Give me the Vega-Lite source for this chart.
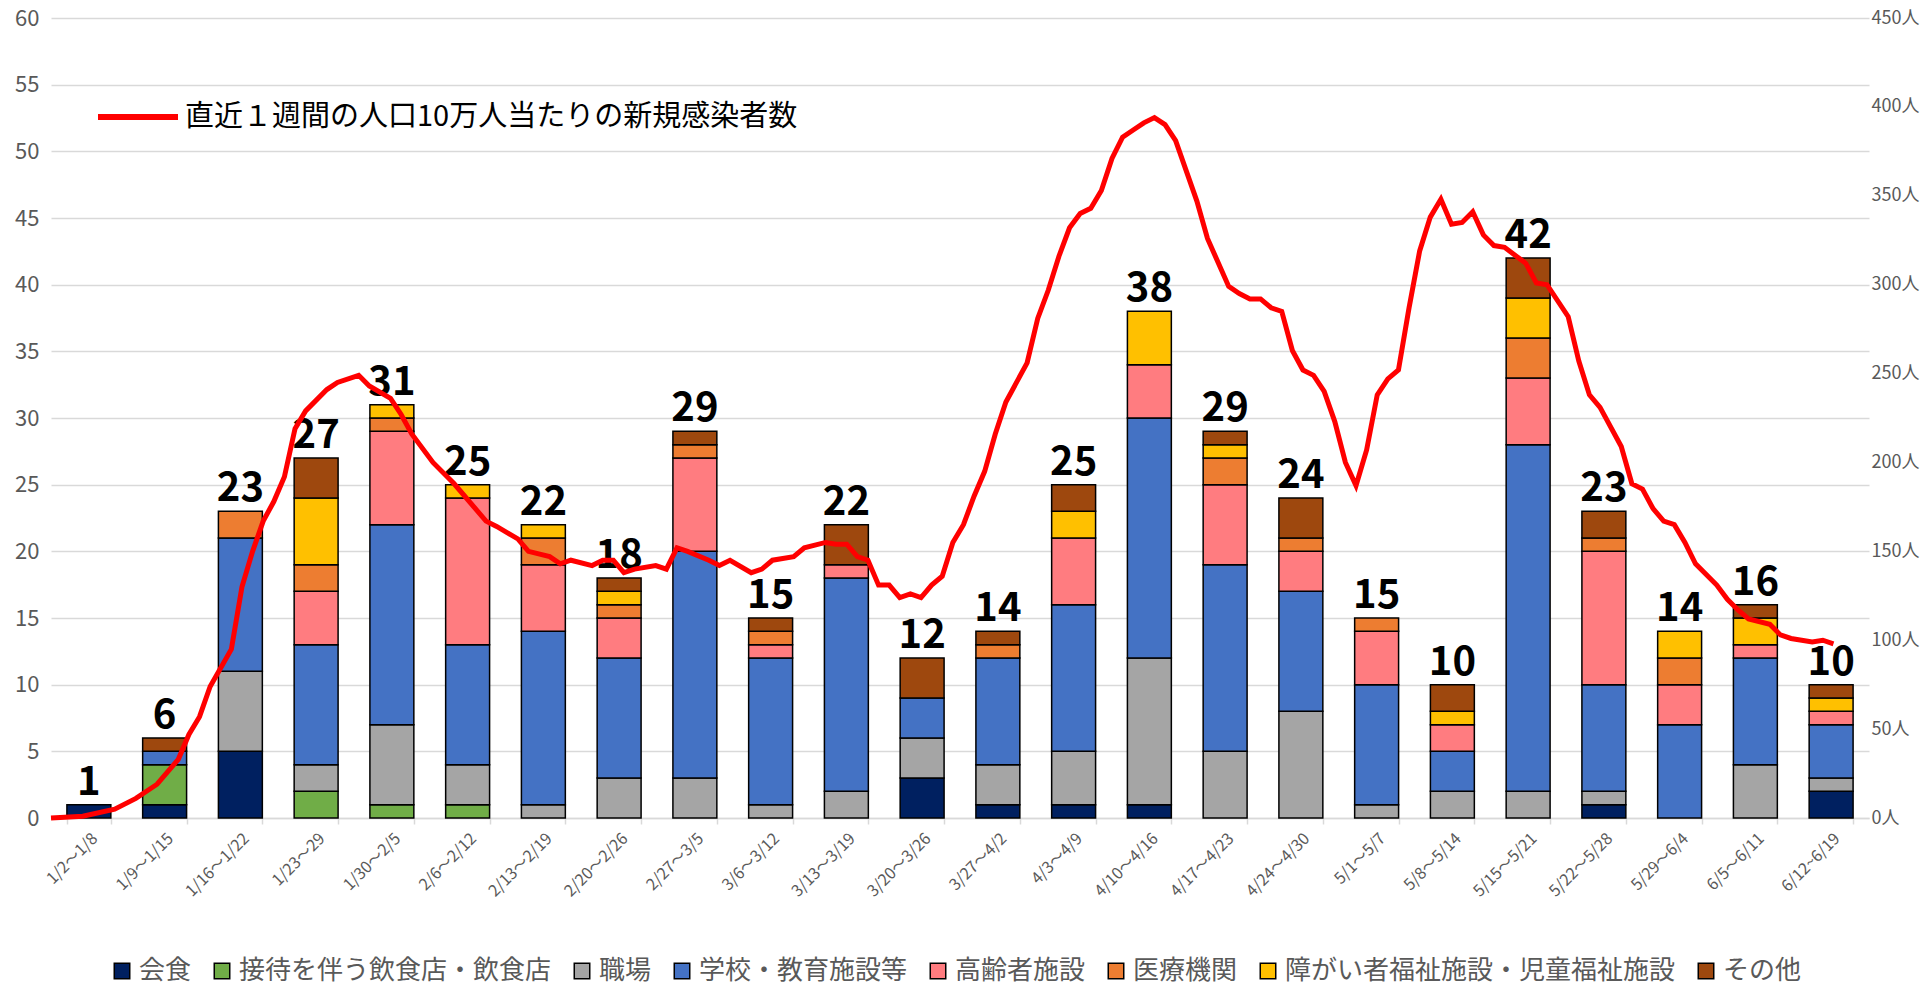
{
  "$schema": "https://vega.github.io/schema/vega-lite/v6.json",
  "autosize": {"type": "none"},
  "width": 1818,
  "height": 800,
  "padding": {"left": 51, "top": 18, "right": 51, "bottom": 175},
  "background": "white",
  "config": {
    "font": "Noto Sans CJK JP",
    "view": {"stroke": null}
  },
  "datasets": {
    "cases": [
      {"w": "1/2～1/8", "c": "会食", "n": 1},
      {"w": "1/9～1/15", "c": "会食", "n": 1},
      {"w": "1/9～1/15", "c": "接待を伴う飲食店・飲食店", "n": 3},
      {"w": "1/9～1/15", "c": "学校・教育施設等", "n": 1},
      {"w": "1/9～1/15", "c": "その他", "n": 1},
      {"w": "1/16～1/22", "c": "会食", "n": 5},
      {"w": "1/16～1/22", "c": "職場", "n": 6},
      {"w": "1/16～1/22", "c": "学校・教育施設等", "n": 10},
      {"w": "1/16～1/22", "c": "医療機関", "n": 2},
      {"w": "1/23～29", "c": "接待を伴う飲食店・飲食店", "n": 2},
      {"w": "1/23～29", "c": "職場", "n": 2},
      {"w": "1/23～29", "c": "学校・教育施設等", "n": 9},
      {"w": "1/23～29", "c": "高齢者施設", "n": 4},
      {"w": "1/23～29", "c": "医療機関", "n": 2},
      {"w": "1/23～29", "c": "障がい者福祉施設・児童福祉施設", "n": 5},
      {"w": "1/23～29", "c": "その他", "n": 3},
      {"w": "1/30～2/5", "c": "接待を伴う飲食店・飲食店", "n": 1},
      {"w": "1/30～2/5", "c": "職場", "n": 6},
      {"w": "1/30～2/5", "c": "学校・教育施設等", "n": 15},
      {"w": "1/30～2/5", "c": "高齢者施設", "n": 7},
      {"w": "1/30～2/5", "c": "医療機関", "n": 1},
      {"w": "1/30～2/5", "c": "障がい者福祉施設・児童福祉施設", "n": 1},
      {"w": "2/6～2/12", "c": "接待を伴う飲食店・飲食店", "n": 1},
      {"w": "2/6～2/12", "c": "職場", "n": 3},
      {"w": "2/6～2/12", "c": "学校・教育施設等", "n": 9},
      {"w": "2/6～2/12", "c": "高齢者施設", "n": 11},
      {"w": "2/6～2/12", "c": "障がい者福祉施設・児童福祉施設", "n": 1},
      {"w": "2/13～2/19", "c": "職場", "n": 1},
      {"w": "2/13～2/19", "c": "学校・教育施設等", "n": 13},
      {"w": "2/13～2/19", "c": "高齢者施設", "n": 5},
      {"w": "2/13～2/19", "c": "医療機関", "n": 2},
      {"w": "2/13～2/19", "c": "障がい者福祉施設・児童福祉施設", "n": 1},
      {"w": "2/20～2/26", "c": "職場", "n": 3},
      {"w": "2/20～2/26", "c": "学校・教育施設等", "n": 9},
      {"w": "2/20～2/26", "c": "高齢者施設", "n": 3},
      {"w": "2/20～2/26", "c": "医療機関", "n": 1},
      {"w": "2/20～2/26", "c": "障がい者福祉施設・児童福祉施設", "n": 1},
      {"w": "2/20～2/26", "c": "その他", "n": 1},
      {"w": "2/27～3/5", "c": "職場", "n": 3},
      {"w": "2/27～3/5", "c": "学校・教育施設等", "n": 17},
      {"w": "2/27～3/5", "c": "高齢者施設", "n": 7},
      {"w": "2/27～3/5", "c": "医療機関", "n": 1},
      {"w": "2/27～3/5", "c": "その他", "n": 1},
      {"w": "3/6～3/12", "c": "職場", "n": 1},
      {"w": "3/6～3/12", "c": "学校・教育施設等", "n": 11},
      {"w": "3/6～3/12", "c": "高齢者施設", "n": 1},
      {"w": "3/6～3/12", "c": "医療機関", "n": 1},
      {"w": "3/6～3/12", "c": "その他", "n": 1},
      {"w": "3/13～3/19", "c": "職場", "n": 2},
      {"w": "3/13～3/19", "c": "学校・教育施設等", "n": 16},
      {"w": "3/13～3/19", "c": "高齢者施設", "n": 1},
      {"w": "3/13～3/19", "c": "その他", "n": 3},
      {"w": "3/20～3/26", "c": "会食", "n": 3},
      {"w": "3/20～3/26", "c": "職場", "n": 3},
      {"w": "3/20～3/26", "c": "学校・教育施設等", "n": 3},
      {"w": "3/20～3/26", "c": "その他", "n": 3},
      {"w": "3/27～4/2", "c": "会食", "n": 1},
      {"w": "3/27～4/2", "c": "職場", "n": 3},
      {"w": "3/27～4/2", "c": "学校・教育施設等", "n": 8},
      {"w": "3/27～4/2", "c": "医療機関", "n": 1},
      {"w": "3/27～4/2", "c": "その他", "n": 1},
      {"w": "4/3～4/9", "c": "会食", "n": 1},
      {"w": "4/3～4/9", "c": "職場", "n": 4},
      {"w": "4/3～4/9", "c": "学校・教育施設等", "n": 11},
      {"w": "4/3～4/9", "c": "高齢者施設", "n": 5},
      {"w": "4/3～4/9", "c": "障がい者福祉施設・児童福祉施設", "n": 2},
      {"w": "4/3～4/9", "c": "その他", "n": 2},
      {"w": "4/10～4/16", "c": "会食", "n": 1},
      {"w": "4/10～4/16", "c": "職場", "n": 11},
      {"w": "4/10～4/16", "c": "学校・教育施設等", "n": 18},
      {"w": "4/10～4/16", "c": "高齢者施設", "n": 4},
      {"w": "4/10～4/16", "c": "障がい者福祉施設・児童福祉施設", "n": 4},
      {"w": "4/17～4/23", "c": "職場", "n": 5},
      {"w": "4/17～4/23", "c": "学校・教育施設等", "n": 14},
      {"w": "4/17～4/23", "c": "高齢者施設", "n": 6},
      {"w": "4/17～4/23", "c": "医療機関", "n": 2},
      {"w": "4/17～4/23", "c": "障がい者福祉施設・児童福祉施設", "n": 1},
      {"w": "4/17～4/23", "c": "その他", "n": 1},
      {"w": "4/24～4/30", "c": "職場", "n": 8},
      {"w": "4/24～4/30", "c": "学校・教育施設等", "n": 9},
      {"w": "4/24～4/30", "c": "高齢者施設", "n": 3},
      {"w": "4/24～4/30", "c": "医療機関", "n": 1},
      {"w": "4/24～4/30", "c": "その他", "n": 3},
      {"w": "5/1～5/7", "c": "職場", "n": 1},
      {"w": "5/1～5/7", "c": "学校・教育施設等", "n": 9},
      {"w": "5/1～5/7", "c": "高齢者施設", "n": 4},
      {"w": "5/1～5/7", "c": "医療機関", "n": 1},
      {"w": "5/8～5/14", "c": "職場", "n": 2},
      {"w": "5/8～5/14", "c": "学校・教育施設等", "n": 3},
      {"w": "5/8～5/14", "c": "高齢者施設", "n": 2},
      {"w": "5/8～5/14", "c": "障がい者福祉施設・児童福祉施設", "n": 1},
      {"w": "5/8～5/14", "c": "その他", "n": 2},
      {"w": "5/15～5/21", "c": "職場", "n": 2},
      {"w": "5/15～5/21", "c": "学校・教育施設等", "n": 26},
      {"w": "5/15～5/21", "c": "高齢者施設", "n": 5},
      {"w": "5/15～5/21", "c": "医療機関", "n": 3},
      {"w": "5/15～5/21", "c": "障がい者福祉施設・児童福祉施設", "n": 3},
      {"w": "5/15～5/21", "c": "その他", "n": 3},
      {"w": "5/22～5/28", "c": "会食", "n": 1},
      {"w": "5/22～5/28", "c": "職場", "n": 1},
      {"w": "5/22～5/28", "c": "学校・教育施設等", "n": 8},
      {"w": "5/22～5/28", "c": "高齢者施設", "n": 10},
      {"w": "5/22～5/28", "c": "医療機関", "n": 1},
      {"w": "5/22～5/28", "c": "その他", "n": 2},
      {"w": "5/29～6/4", "c": "学校・教育施設等", "n": 7},
      {"w": "5/29～6/4", "c": "高齢者施設", "n": 3},
      {"w": "5/29～6/4", "c": "医療機関", "n": 2},
      {"w": "5/29～6/4", "c": "障がい者福祉施設・児童福祉施設", "n": 2},
      {"w": "6/5～6/11", "c": "職場", "n": 4},
      {"w": "6/5～6/11", "c": "学校・教育施設等", "n": 8},
      {"w": "6/5～6/11", "c": "高齢者施設", "n": 1},
      {"w": "6/5～6/11", "c": "障がい者福祉施設・児童福祉施設", "n": 2},
      {"w": "6/5～6/11", "c": "その他", "n": 1},
      {"w": "6/12~6/19", "c": "会食", "n": 2},
      {"w": "6/12~6/19", "c": "職場", "n": 1},
      {"w": "6/12~6/19", "c": "学校・教育施設等", "n": 4},
      {"w": "6/12~6/19", "c": "高齢者施設", "n": 1},
      {"w": "6/12~6/19", "c": "障がい者福祉施設・児童福祉施設", "n": 1},
      {"w": "6/12~6/19", "c": "その他", "n": 1}
    ],
    "line": [
      {"d": 0, "v": 0}, {"d": 3, "v": 1}, {"d": 6, "v": 5}, {"d": 8, "v": 11}, {"d": 10, "v": 19},
      {"d": 12, "v": 33}, {"d": 13, "v": 47}, {"d": 14, "v": 57}, {"d": 15, "v": 74}, {"d": 17, "v": 95},
      {"d": 18, "v": 130}, {"d": 19, "v": 150}, {"d": 20, "v": 167}, {"d": 21, "v": 178}, {"d": 22, "v": 192},
      {"d": 23, "v": 219}, {"d": 24, "v": 229}, {"d": 26, "v": 241}, {"d": 27, "v": 245}, {"d": 29, "v": 249},
      {"d": 30, "v": 243}, {"d": 32, "v": 236}, {"d": 33, "v": 227}, {"d": 34, "v": 216}, {"d": 36, "v": 200},
      {"d": 38, "v": 188}, {"d": 40, "v": 174}, {"d": 41, "v": 167}, {"d": 42, "v": 164}, {"d": 44, "v": 157},
      {"d": 45, "v": 150}, {"d": 47, "v": 147}, {"d": 48, "v": 143}, {"d": 49, "v": 145}, {"d": 51, "v": 142},
      {"d": 52, "v": 145}, {"d": 53, "v": 145}, {"d": 54, "v": 138}, {"d": 55, "v": 140}, {"d": 57, "v": 142},
      {"d": 58, "v": 140}, {"d": 59, "v": 152}, {"d": 60, "v": 150}, {"d": 62, "v": 145}, {"d": 63, "v": 142},
      {"d": 64, "v": 145}, {"d": 66, "v": 138}, {"d": 67, "v": 140}, {"d": 68, "v": 145}, {"d": 70, "v": 147},
      {"d": 71, "v": 152}, {"d": 73, "v": 155}, {"d": 74, "v": 154}, {"d": 75, "v": 154}, {"d": 76, "v": 147},
      {"d": 77, "v": 145}, {"d": 78, "v": 131}, {"d": 79, "v": 131}, {"d": 80, "v": 124}, {"d": 81, "v": 126},
      {"d": 82, "v": 124}, {"d": 83, "v": 131}, {"d": 84, "v": 136}, {"d": 85, "v": 155}, {"d": 86, "v": 165},
      {"d": 87, "v": 181}, {"d": 88, "v": 195}, {"d": 89, "v": 216}, {"d": 90, "v": 234}, {"d": 92, "v": 256},
      {"d": 93, "v": 281}, {"d": 94, "v": 297}, {"d": 95, "v": 316}, {"d": 96, "v": 332}, {"d": 97, "v": 340},
      {"d": 98, "v": 343}, {"d": 99, "v": 353}, {"d": 100, "v": 371}, {"d": 101, "v": 383}, {"d": 102, "v": 387},
      {"d": 103, "v": 391}, {"d": 104, "v": 394}, {"d": 105, "v": 390}, {"d": 106, "v": 381}, {"d": 107, "v": 364},
      {"d": 108, "v": 347}, {"d": 109, "v": 326}, {"d": 111, "v": 299}, {"d": 112, "v": 295}, {"d": 113, "v": 292},
      {"d": 114, "v": 292}, {"d": 115, "v": 287}, {"d": 116, "v": 285}, {"d": 117, "v": 263}, {"d": 118, "v": 252},
      {"d": 119, "v": 249}, {"d": 120, "v": 240}, {"d": 121, "v": 223}, {"d": 122, "v": 200}, {"d": 123, "v": 187},
      {"d": 124, "v": 207}, {"d": 125, "v": 238}, {"d": 126, "v": 247}, {"d": 127, "v": 252}, {"d": 128, "v": 287},
      {"d": 129, "v": 319}, {"d": 130, "v": 338}, {"d": 131, "v": 348}, {"d": 132, "v": 334}, {"d": 133, "v": 335},
      {"d": 134, "v": 341}, {"d": 135, "v": 328}, {"d": 136, "v": 322}, {"d": 137, "v": 321}, {"d": 139, "v": 312},
      {"d": 140, "v": 301}, {"d": 141, "v": 300}, {"d": 143, "v": 282}, {"d": 144, "v": 257}, {"d": 145, "v": 238},
      {"d": 146, "v": 231}, {"d": 148, "v": 209}, {"d": 149, "v": 188}, {"d": 150, "v": 185}, {"d": 151, "v": 174},
      {"d": 152, "v": 167}, {"d": 153, "v": 165}, {"d": 154, "v": 155}, {"d": 155, "v": 143}, {"d": 157, "v": 131},
      {"d": 158, "v": 123}, {"d": 159, "v": 117}, {"d": 160, "v": 112}, {"d": 162, "v": 109}, {"d": 163, "v": 103},
      {"d": 164, "v": 101}, {"d": 166, "v": 99}, {"d": 167, "v": 100}, {"d": 168, "v": 98}
    ]
  },
  "layer": [
    {
      "data": {"name": "cases"},
      "transform": [
        {"calculate": "indexof(['会食', '接待を伴う飲食店・飲食店', '職場', '学校・教育施設等', '高齢者施設', '医療機関', '障がい者福祉施設・児童福祉施設', 'その他'], datum.c)", "as": "k"}
      ],
      "encoding": {
        "x": {
          "field": "w",
          "type": "nominal",
          "sort": null,
          "scale": {"paddingInner": 0.42, "paddingOuter": 0.21},
          "axis": {
            "title": null,
            "labelAngle": -45,
            "labelFontSize": 16,
            "labelColor": "#595959",
            "labelPadding": 6,
            "domainColor": "#d9d9d9",
            "domainWidth": 1.5,
            "tickColor": "#d9d9d9",
            "tickWidth": 1.5,
            "tickSize": 6,
            "tickBand": "extent"
          }
        }
      },
      "layer": [
        {
          "mark": {"type": "bar", "stroke": "black", "strokeWidth": 1.5},
          "encoding": {
            "y": {
              "field": "n",
              "type": "quantitative",
              "aggregate": "sum",
              "stack": "zero",
              "scale": {"domain": [0, 60], "nice": false},
              "axis": {
                "title": null,
                "values": [0, 5, 10, 15, 20, 25, 30, 35, 40, 45, 50, 55, 60],
                "labelFontSize": 22,
                "labelColor": "#595959",
                "labelPadding": 12,
                "domain": false,
                "ticks": false,
                "gridColor": "#d9d9d9",
                "gridWidth": 1.5
              }
            },
            "order": {"field": "k", "type": "quantitative", "aggregate": "min", "sort": "ascending"},
            "color": {
              "field": "c",
              "type": "nominal",
              "sort": ["会食", "接待を伴う飲食店・飲食店", "職場", "学校・教育施設等", "高齢者施設", "医療機関", "障がい者福祉施設・児童福祉施設", "その他"],
              "scale": {
                "domain": ["会食", "接待を伴う飲食店・飲食店", "職場", "学校・教育施設等", "高齢者施設", "医療機関", "障がい者福祉施設・児童福祉施設", "その他"],
                "range": ["#002060", "#70AD47", "#A5A5A5", "#4472C4", "#FF7C80", "#ED7D31", "#FFC000", "#9E480E"]
              },
              "legend": {
                "title": null,
                "orient": "none",
                "direction": "horizontal",
                "legendX": 58,
                "legendY": 940,
                "symbolType": "square",
                "symbolSize": 240,
                "symbolStrokeColor": "black",
                "symbolStrokeWidth": 1.5,
                "labelFontSize": 26,
                "labelColor": "#595959",
                "labelLimit": 0,
                "labelOffset": 4,
                "columnPadding": 17,
                "symbolOffset": 0
              }
            }
          }
        },
        {
          "mark": {"type": "text", "fontSize": 40, "fontWeight": "bold", "color": "black", "baseline": "alphabetic", "dy": -10},
          "encoding": {
            "y": {"field": "n", "type": "quantitative", "aggregate": "sum"},
            "text": {"field": "n", "type": "quantitative", "aggregate": "sum"}
          }
        }
      ]
    },
    {
      "data": {"name": "line"},
      "mark": {"type": "line", "strokeWidth": 5, "interpolate": "linear"},
      "encoding": {
        "x": {
          "field": "d",
          "type": "quantitative",
          "scale": {"domain": [0, 171.35], "nice": false, "zero": false},
          "axis": null
        },
        "y": {
          "field": "v",
          "type": "quantitative",
          "scale": {"domain": [0, 450], "nice": false},
          "axis": {
            "orient": "right",
            "title": null,
            "values": [0, 50, 100, 150, 200, 250, 300, 350, 400, 450],
            "labelExpr": "datum.value + '人'",
            "labelFontSize": 18,
            "labelColor": "#595959",
            "labelPadding": 2,
            "domain": false,
            "ticks": false,
            "grid": false
          }
        },
        "stroke": {
          "datum": "直近１週間の人口10万人当たりの新規感染者数",
          "type": "nominal",
          "scale": {"range": ["#ff0000"]},
          "legend": {
            "title": null,
            "orient": "none",
            "legendX": 44,
            "legendY": 56,
            "symbolType": "stroke",
            "symbolSize": 6400,
            "symbolStrokeWidth": 6,
            "labelFontSize": 29,
            "labelColor": "black",
            "labelLimit": 0
          }
        }
      }
    }
  ],
  "resolve": {"scale": {"x": "independent", "y": "independent", "color": "independent", "stroke": "independent"}}
}
